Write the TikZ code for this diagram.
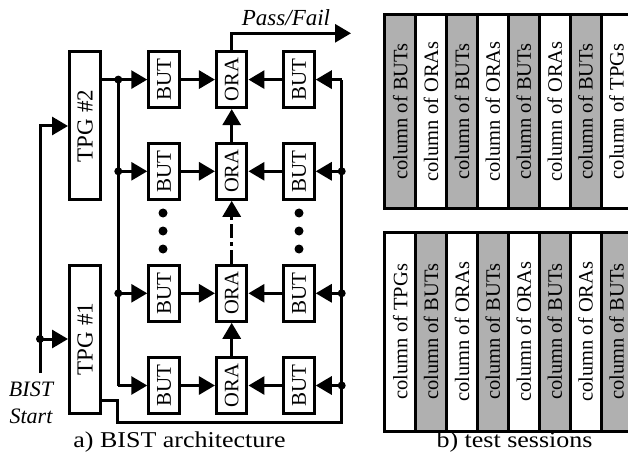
\documentclass[tikz,border=0pt]{standalone}
\usepackage{fontspec}
\setmainfont{Liberation Serif}
\usetikzlibrary{arrows.meta}
\newcommand\vtx[2]{\rotatebox{90}{\fontsize{#1}{#1}\selectfont #2}}
\newcommand\hcap[1]{\scalebox{1.15}[1]{\fontsize{22.6}{24}\selectfont #1}}
\begin{document}
\begin{tikzpicture}[x=1pt,y=-1pt,line width=3pt,
  blk/.style={draw,line width=3pt,fill=white,inner sep=0pt,minimum width=30.5pt,minimum height=56pt},
  tpgbox/.style={blk,minimum width=31pt,minimum height=148pt},
  arr/.style={-{Triangle[length=16pt,width=18pt]}},
  jdot/.style={circle,fill=black,inner sep=0pt,minimum size=8pt},
  vdot/.style={circle,fill=black,inner sep=0pt,minimum size=9pt},
  colbox/.style={draw,line width=3pt,inner sep=0pt,minimum width=30.9pt},
  gcol/.style={colbox,fill=black!31},
  wcol/.style={colbox,fill=white},
  tcol/.style={minimum height=194pt},
  bcol/.style={minimum height=199.5pt}]
\clip (0,0) rectangle (628,454);
% blocks
\node[tpgbox] (tpgB) at (85,126) {\vtx{23}{TPG \#2}};
\node[tpgbox] (tpgA) at (85,339) {\vtx{23}{TPG \#1}};
\foreach \r/\y in {1/79.6,2/171.3,3/293.3,4/385.5}{
  \node[blk] (bl\r) at (164,\y) {\vtx{21}{BUT}};
  \node[blk] (or\r) at (231.7,\y) {\vtx{20.5}{ORA}};
  \node[blk] (br\r) at (299,\y) {\vtx{21}{BUT}};
}
% bus coordinates
\coordinate (lb1) at (118.3,79.6);
\coordinate (lb2) at (118.3,171.3);
\coordinate (lb3) at (118.3,293.3);
\coordinate (lb4) at (118.3,385.5);
\coordinate (rb1) at (341.7,79.6);
\coordinate (rb2) at (341.7,171.3);
\coordinate (rb3) at (341.7,293.3);
\coordinate (rb4) at (341.7,385.5);
\coordinate (tpgAout) at (101,400);
\coordinate (c1) at (117.3,400);
\coordinate (c2) at (117.3,422.7);
\coordinate (c3) at (341.7,422.7);
\coordinate (st0) at (40,373);
\coordinate (st1) at (40,126);
\coordinate (st2) at (40,339);
\coordinate (pf1) at (231.7,33.3);
\coordinate (pf2) at (351,33.3);
% TPG #2 output and left bus
\draw (tpgB.east |- lb1) -- (lb1);
\draw (lb1) -- (lb4);
\foreach \r in {1,2,3,4}{\draw[arr] (lb\r) -- (bl\r.west);}
% TPG #1 output and right bus
\draw (tpgAout) -- (c1) -- (c2) -- (c3) -- (rb1);
\foreach \r in {1,2,3,4}{\draw[arr] (rb\r) -- (br\r.east);}
% BUT -> ORA
\foreach \r in {1,2,3,4}{
  \draw[arr] (bl\r.east) -- (or\r.west);
  \draw[arr] (br\r.west) -- (or\r.east);
}
% ORA chain
\draw[arr] (or4.north) -- (or3.south);
\draw[arr,dash pattern=on 14pt off 4pt on 4pt off 4pt] (or3.north) -- (or2.south);
\draw[arr] (or2.north) -- (or1.south);
% Pass/Fail
\draw[arr] (or1.north) -- (pf1) -- (pf2);
\node[font=\fontsize{23}{24}\selectfont\itshape] (pflabel) at (286,18) {Pass/Fail};
% BIST start
\draw[arr] (st0) -- (st1) -- (tpgB.west |- st1);
\draw[arr] (st2) -- (tpgA.west |- st2);
% junction dots
\foreach \c in {lb1,lb2,lb3,rb2,rb3,rb4,st2}{\node[jdot] at (\c) {};}
% vertical ellipses
\foreach \x in {163,299}{
  \foreach \y in {213,231,249}{\node[vdot] at (\x,\y) {};}
}
\node[font=\fontsize{22}{24}\selectfont\itshape,anchor=base] (bist) at (31,396) {BIST};
\node[font=\fontsize{22}{24}\selectfont\itshape,anchor=base] (start) at (31,423) {Start};
% captions
\node[anchor=base] (capa) at (179.5,447.3) {\hcap{a) BIST architecture}};
\node[anchor=base] (capb) at (514.5,447.3) {\hcap{b) test sessions}};
% test sessions: top
\foreach \i/\t/\s in {0/BUTs/gcol,1/ORAs/wcol,2/BUTs/gcol,3/ORAs/wcol,4/BUTs/gcol,5/ORAs/wcol,6/BUTs/gcol,7/TPGs/wcol}{
  \node[\s,tcol] (tc\i) at (400.15+30.9*\i,111.5) {\vtx{20.5}{column of \t}};
}
\foreach \i/\t/\s in {0/TPGs/wcol,1/BUTs/gcol,2/ORAs/wcol,3/BUTs/gcol,4/ORAs/wcol,5/BUTs/gcol,6/ORAs/wcol,7/BUTs/gcol}{
  \node[\s,bcol] (bc\i) at (400.15+30.9*\i,331.75) {\vtx{20.5}{column of \t}};
}
\end{tikzpicture}
\end{document}
